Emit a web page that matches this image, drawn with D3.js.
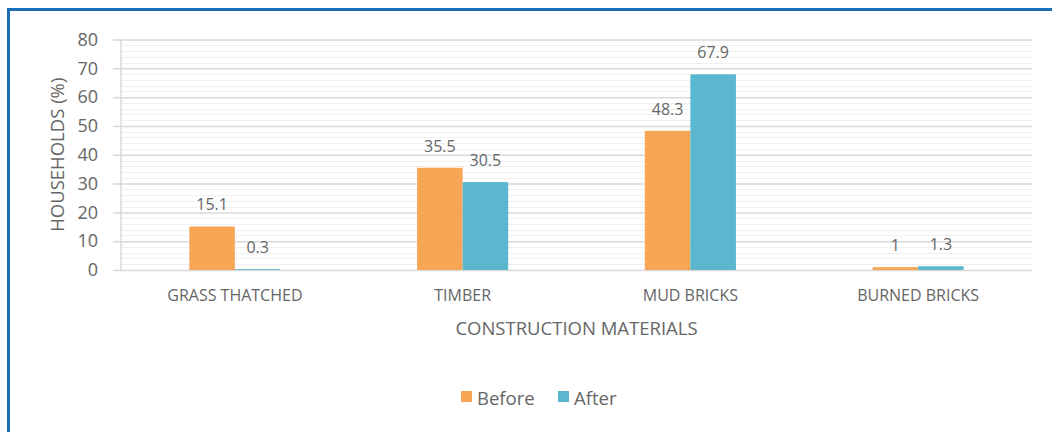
<!DOCTYPE html>
<html>
<head>
<meta charset="utf-8">
<script src="https://cdn.jsdelivr.net/npm/d3@7"></script>
<style>
  body { margin: 0; background: #fff; }
  text { font-family: "Open Sans", sans-serif; fill: #666666; }
</style>
</head>
<body>
<div id="chart"></div>
<script>
// data
var categories = ["GRASS THATCHED", "TIMBER", "MUD BRICKS", "BURNED BRICKS"];
var seriesNames = ["Before", "After"];
var before = [15.1, 35.5, 48.3, 1];
var after = [0.3, 30.5, 67.9, 1.3];
var yTicks = [0, 10, 20, 30, 40, 50, 60, 70, 80];

var colors = ["#F6A654", "#5AB7CE"];

var W = 1052, H = 432;
var svg = d3.select("#chart").append("svg").attr("width", W).attr("height", H);

// frame
svg.append("line").attr("x1", 8.5).attr("x2", 8.5).attr("y1", 8).attr("y2", H)
  .attr("stroke", "#1a6fb8").attr("stroke-width", 3);
svg.append("line").attr("x1", 7).attr("x2", W).attr("y1", 9.5).attr("y2", 9.5)
  .attr("stroke", "#1a6fb8").attr("stroke-width", 3);

var plotLeft = 121, plotRight = 1032, plotTop = 39.5, plotBottom = 270;

var x = d3.scaleBand().domain(categories).range([plotLeft, plotRight]);
var y = d3.scaleLinear().domain([0, 80]).range([plotBottom, plotTop]);
var inner = d3.scaleBand().domain(seriesNames).range([0, x.bandwidth() * 0.4]);
var offset = x.bandwidth() * 0.3;

// minor gridlines
var minor = d3.range(0, 81, 2).filter(function(d) { return d % 10 !== 0; });
svg.append("g").selectAll("line").data(minor).enter().append("line")
  .attr("x1", plotLeft).attr("x2", plotRight)
  .attr("y1", function(d) { return Math.round(y(d)) + 0.5; })
  .attr("y2", function(d) { return Math.round(y(d)) + 0.5; })
  .attr("stroke", "#f0f0f0").attr("stroke-width", 1);

// major gridlines + y axis
var yAxis = svg.append("g")
  .attr("transform", "translate(" + plotRight + ",0)")
  .call(d3.axisLeft(y).tickValues(yTicks).tickSize(plotRight - plotLeft + 8).tickPadding(15));
yAxis.select(".domain").remove();
yAxis.selectAll("line").attr("stroke", "#d9d9d9").attr("stroke-width", 1.5);
yAxis.selectAll("text").attr("font-size", 18).attr("fill", "#666666")
  .attr("font-family", "Open Sans, sans-serif");

// y axis line
svg.append("line").attr("x1", plotLeft).attr("x2", plotLeft).attr("y1", plotTop).attr("y2", plotBottom)
  .attr("stroke", "#d9d9d9").attr("stroke-width", 1.5);

// bars
var rows = categories.map(function(c, i) {
  return { cat: c, vals: [{ k: "Before", v: before[i] }, { k: "After", v: after[i] }] };
});

var groups = svg.append("g").selectAll("g").data(rows).enter().append("g")
  .attr("transform", function(d) { return "translate(" + (x(d.cat) + offset) + ",0)"; });

groups.selectAll("rect").data(function(d) { return d.vals; }).enter().append("rect")
  .attr("x", function(d) { return inner(d.k); })
  .attr("y", function(d) { return y(d.v); })
  .attr("width", inner.bandwidth())
  .attr("height", function(d) { return y(0) - y(d.v); })
  .attr("fill", function(d, i) { return colors[i]; });

groups.selectAll("text").data(function(d) { return d.vals; }).enter().append("text")
  .attr("x", function(d) { return inner(d.k) + inner.bandwidth() / 2; })
  .attr("y", function(d) { return y(d.v) - 16; })
  .attr("text-anchor", "middle")
  .attr("font-size", 16)
  .attr("fill", "#808080")
  .text(function(d) { return d.v; });

// x axis
var xAxis = svg.append("g")
  .attr("transform", "translate(0," + plotBottom + ")")
  .call(d3.axisBottom(x).tickSize(0).tickPadding(20));
xAxis.select(".domain").remove();
xAxis.selectAll("text").attr("font-size", 16).attr("fill", "#666666")
  .attr("font-family", "Open Sans, sans-serif");

// axis titles
svg.append("text").attr("x", (plotLeft + plotRight) / 2).attr("y", 335)
  .attr("text-anchor", "middle").attr("font-size", 18.5)
  .text("CONSTRUCTION MATERIALS");

svg.append("text")
  .attr("transform", "translate(64," + (plotTop + plotBottom) / 2 + ") rotate(-90)")
  .attr("text-anchor", "middle").attr("font-size", 18.5)
  .text("HOUSEHOLDS (%)");

// legend
var legend = svg.append("g").selectAll("g").data(seriesNames).enter().append("g")
  .attr("transform", function(d, i) { return "translate(" + (461 + i * 97) + ",391)"; });
legend.append("rect").attr("width", 11).attr("height", 11)
  .attr("fill", function(d, i) { return colors[i]; });
legend.append("text").attr("x", 16).attr("y", 14).attr("font-size", 18.5)
  .text(function(d) { return d; });
</script>
</body>
</html>
